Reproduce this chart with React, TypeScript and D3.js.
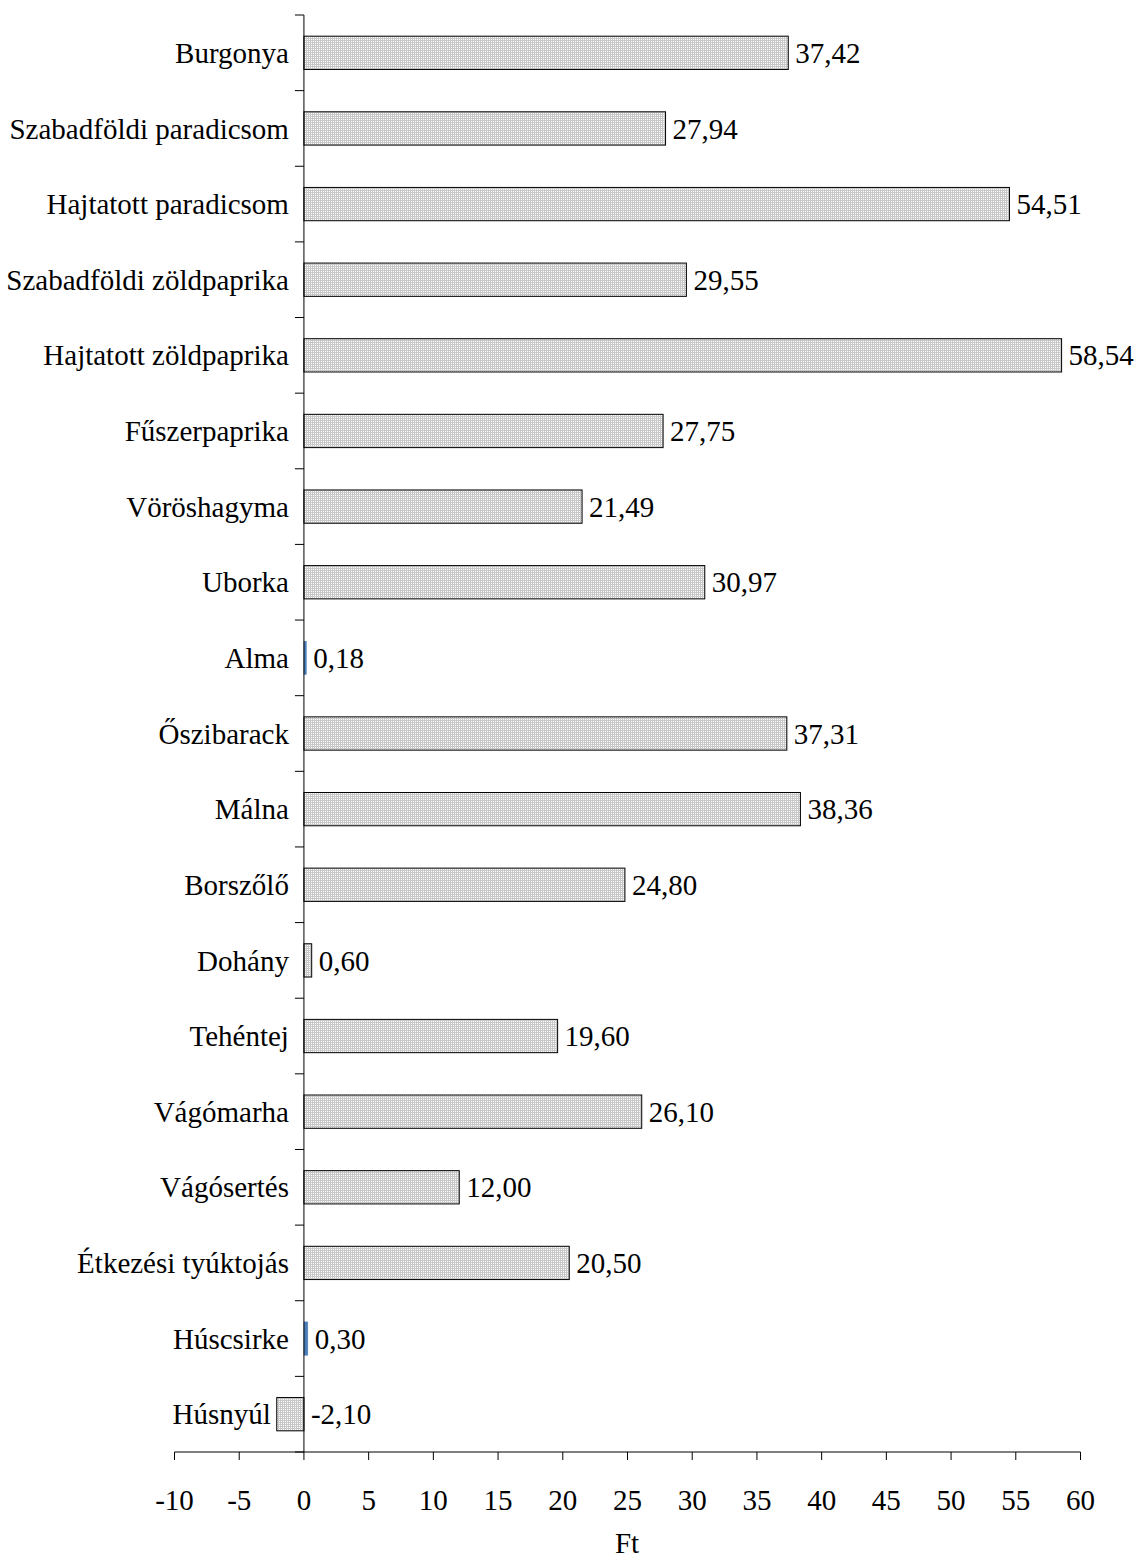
import React from "react";
import * as d3 from "d3";

const categories = [
  "Burgonya",
  "Szabadföldi paradicsom",
  "Hajtatott paradicsom",
  "Szabadföldi zöldpaprika",
  "Hajtatott zöldpaprika",
  "Fűszerpaprika",
  "Vöröshagyma",
  "Uborka",
  "Alma",
  "Őszibarack",
  "Málna",
  "Borszőlő",
  "Dohány",
  "Tehéntej",
  "Vágómarha",
  "Vágósertés",
  "Étkezési tyúktojás",
  "Húscsirke",
  "Húsnyúl",
];
const values = [37.42, 27.94, 54.51, 29.55, 58.54, 27.75, 21.49, 30.97, 0.18, 37.31, 38.36, 24.8, 0.6, 19.6, 26.1, 12.0, 20.5, 0.3, -2.1];
const xTicks = [-10, -5, 0, 5, 10, 15, 20, 25, 30, 35, 40, 45, 50, 55, 60];
const axisTitle = "Ft";

const W = 1142;
const H = 1560;
const FONT = "'Liberation Serif', 'Times New Roman', serif";
const FS = 29;

export default function App() {
  const x = d3.scaleLinear().domain([-10, 60]).range([174.5, 1080.5]);
  const y = d3.scaleBand<string>().domain(categories).range([15, 1452]).paddingInner(0.56).paddingOuter(0.28);
  const band = d3.scaleBand<string>().domain(categories).range([15, 1452]);
  const x0 = x(0);
  const fmt = (v: number) => v.toFixed(2).replace(".", ",");
  return (
    <svg width={W} height={H} style={{ position: "absolute", left: 0, top: 0, background: "#fff" }}>
      <defs>
        <pattern id="dots" width="2" height="2" patternUnits="userSpaceOnUse">
          <rect width="2" height="2" fill="#c8c8c8" />
          <rect x="1" y="1" width="1" height="1" fill="#ffffff" />
        </pattern>
      </defs>
      {categories.map((c, i) => {
        const v = values[i];
        const small = Math.abs(v) < 0.5;
        const xl = Math.min(x(v), x0);
        const w = Math.abs(x(v) - x0);
        const yy = y(c)!;
        const cy = yy + y.bandwidth() / 2;
        return (
          <g key={c}>
            {small ? (
              <rect x={xl} y={yy} width={Math.max(w, 2)} height={y.bandwidth()} fill="#4a7ebb" stroke="#4a7ebb" strokeWidth={0.5} />
            ) : (
              <rect x={xl} y={yy} width={w} height={y.bandwidth()} fill="url(#dots)" stroke="#000" strokeWidth={1} />
            )}
            <text x={Math.max(x(v), x0) + 7} y={cy} dy="0.35em" fontFamily={FONT} fontSize={FS} fill="#000">
              {fmt(v)}
            </text>
            <text x={Math.min(x0 - 9, xl) - 6} y={cy} dy="0.35em" textAnchor="end" fontFamily={FONT} fontSize={FS} fill="#000">
              {c}
            </text>
          </g>
        );
      })}
      {/* y axis */}
      <line x1={x0} x2={x0} y1={15} y2={1452} stroke="#000" strokeWidth={1} />
      {categories.map((c) => (
        <line key={"t" + c} x1={x0 - 9} x2={x0} y1={band(c)!} y2={band(c)!} stroke="#000" />
      ))}
      <line x1={x0 - 9} x2={x0} y1={1452} y2={1452} stroke="#000" />
      {/* x axis */}
      <line x1={x(-10)} x2={x(60)} y1={1452} y2={1452} stroke="#000" />
      {xTicks.map((t) => (
        <g key={t}>
          <line x1={x(t)} x2={x(t)} y1={1452} y2={1460} stroke="#000" />
          <text x={x(t)} y={1500} dy="0.35em" textAnchor="middle" fontFamily={FONT} fontSize={FS} fill="#000">
            {t}
          </text>
        </g>
      ))}
      <text x={627} y={1553} textAnchor="middle" fontFamily={FONT} fontSize={FS} fill="#000">
        {axisTitle}
      </text>
    </svg>
  );
}
